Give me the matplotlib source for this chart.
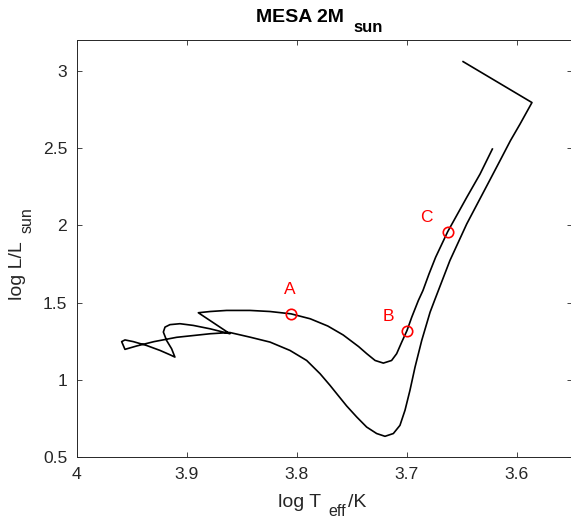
import matplotlib
matplotlib.use("Agg")
import matplotlib.pyplot as plt

plt.rcParams['font.family'] = ['Liberation Sans', 'DejaVu Sans']

# evolutionary track (log Teff, log L/Lsun)
log_teff = [3.649, 3.5864, 3.5973, 3.606, 3.6155, 3.625, 3.6457, 3.661, 3.675, 3.679,
            3.6866, 3.6927, 3.6973, 3.7018, 3.7064, 3.7124, 3.720, 3.7276, 3.7367, 3.7457,
            3.7548, 3.7639, 3.770, 3.779, 3.7912, 3.8064, 3.8245, 3.8427, 3.861, 3.879,
            3.9094, 3.930, 3.9457, 3.9564,
            3.9594, 3.9564, 3.9488, 3.9367, 3.9245, 3.9155, 3.911,
            3.914, 3.9185, 3.9215, 3.920, 3.9155, 3.9064, 3.8943, 3.879, 3.861,
            3.8897, 3.879, 3.864, 3.8427, 3.8245, 3.8055, 3.788, 3.772, 3.758, 3.744,
            3.7366, 3.729, 3.7215, 3.714, 3.7094, 3.7048, 3.700, 3.6957, 3.6897, 3.6855,
            3.680, 3.674, 3.663, 3.6457, 3.6336, 3.6224]
log_l = [3.060, 2.795, 2.655, 2.548, 2.418, 2.289, 2.009, 1.772, 1.513, 1.438,
         1.255, 1.082, 0.932, 0.803, 0.705, 0.652, 0.634, 0.652, 0.694, 0.759,
         0.830, 0.910, 0.964, 1.039, 1.125, 1.190, 1.244, 1.276, 1.306, 1.298,
         1.275, 1.247, 1.219, 1.197,
         1.247, 1.258, 1.247, 1.222, 1.190, 1.162, 1.147,
         1.201, 1.254, 1.309, 1.341, 1.357, 1.363, 1.352, 1.330, 1.298,
         1.434, 1.442, 1.449, 1.449, 1.442, 1.427, 1.395, 1.348, 1.290, 1.215,
         1.169, 1.125, 1.108, 1.125, 1.169, 1.244, 1.319, 1.405, 1.513, 1.578,
         1.685, 1.793, 1.959, 2.181, 2.332, 2.494]

# marked points
pt_names = ['A', 'B', 'C']
pt_teff = [3.8055, 3.7003, 3.663]
pt_l = [1.429, 1.319, 1.959]

xticks = [4.0, 3.9, 3.8, 3.7, 3.6]
xtick_labels = ['4', '3.9', '3.8', '3.7', '3.6']
yticks = [0.5, 1.0, 1.5, 2.0, 2.5, 3.0]
ytick_labels = ['0.5', '1', '1.5', '2', '2.5', '3']

W, H = 571, 518
fig = plt.figure(figsize=(W / 100, H / 100), dpi=100)
ax = fig.add_axes([77 / W, 61 / H, 495 / W, 417 / H])


def px(x, y):
    # pixel position in the figure -> figure fraction
    return x / W, 1 - y / H


ax.plot(log_teff, log_l, color='black', lw=1.2, solid_joinstyle='round')
ax.plot(pt_teff, pt_l, 'o', mfc='none', mec='red', ms=7.5, mew=1.2)

offsets = {'A': (-1, 17), 'B': (-13, 10), 'C': (-15, 10)}
for name, t, l in zip(pt_names, pt_teff, pt_l):
    ax.annotate(name, (t, l), xytext=offsets[name], textcoords='offset points',
                ha='center', va='center', color='red', fontsize=12.5)

ax.set_xlim(4.0, 3.55)
ax.set_ylim(0.5, 3.2)
ax.set_xticks(xticks)
ax.set_xticklabels(xtick_labels)
ax.set_yticks(yticks)
ax.set_yticklabels(ytick_labels)

dark = (0.15, 0.15, 0.15)
ax.tick_params(direction='in', length=3.6, width=0.6, top=True, right=True,
               labelsize=12.6, colors=dark, pad=7)
for s in ax.spines.values():
    s.set_color(dark)
    s.set_linewidth(0.7)

# title, MATLAB-style subscript
fig.text(*px(256, 22), 'MESA 2M', fontsize=14, fontweight='bold', ha='left', va='baseline')
fig.text(*px(353, 32), 'sun', fontsize=12, fontweight='bold', ha='left', va='baseline')

# x label
fig.text(*px(278, 507), 'log T', fontsize=14, color=dark, ha='left', va='baseline')
fig.text(*px(328, 516), 'eff', fontsize=11.5, color=dark, ha='left', va='baseline')
fig.text(*px(348, 507), '/K', fontsize=14, color=dark, ha='left', va='baseline')

# y label
fig.text(*px(22, 300), 'log L/L', fontsize=14, color=dark, rotation=90,
         rotation_mode='anchor', ha='left', va='baseline')
fig.text(*px(32, 233), 'sun', fontsize=11.5, color=dark, rotation=90,
         rotation_mode='anchor', ha='left', va='baseline')

fig.savefig('out.png', dpi=100)
